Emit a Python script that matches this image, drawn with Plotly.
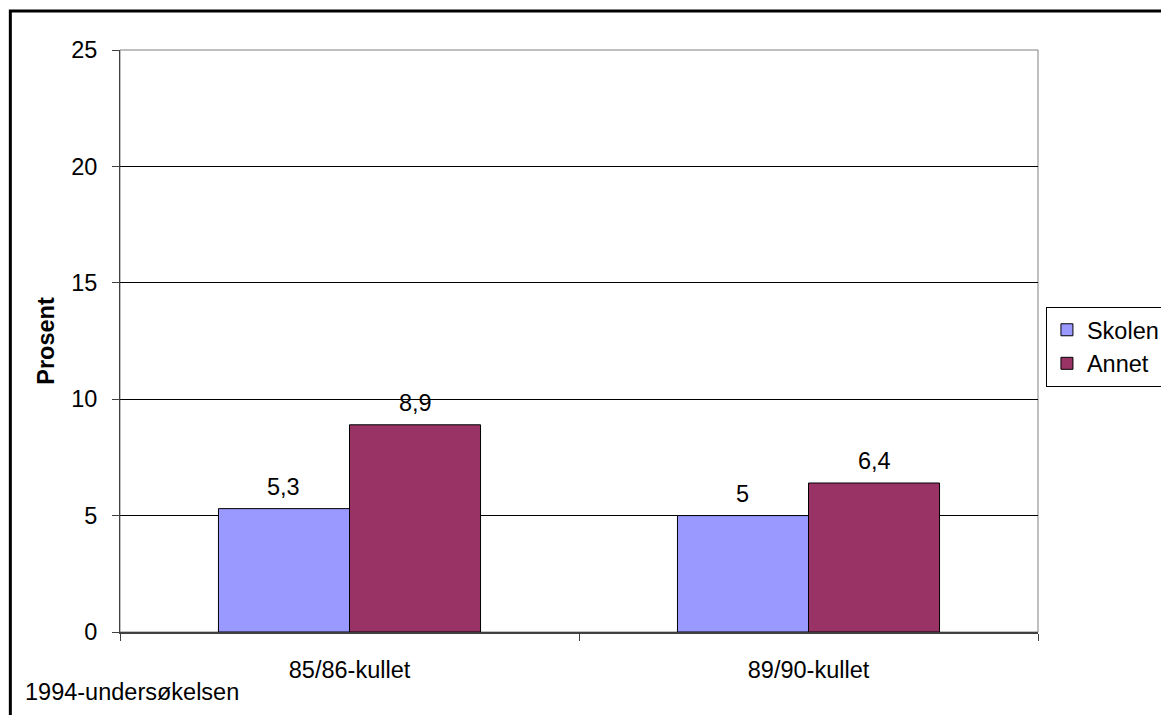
import plotly.graph_objects as go

categories = ["85/86-kullet", "89/90-kullet"]
series_names = ["Skolen", "Annet"]
skolen = [5.3, 5.0]
annet = [8.9, 6.4]
series_values = [skolen, annet]
colors = ["#9999FF", "#993366"]
y_ticks = [0, 5, 10, 15, 20, 25]

W, H = 1169, 715
L, R, T, B = 112, 1037, 42, 624
FONT = "Liberation Sans, Arial, sans-serif"
FS = 23.5
BARGAP = 0.429


def px_x(px):
    return (px - L) / (R - L)


def px_y(py):
    return (B - py) / (B - T)


fig = go.Figure()
for name, vals, col in zip(series_names, series_values, colors):
    fig.add_trace(go.Bar(
        x=categories, y=vals, name=name,
        marker=dict(color=col, line=dict(color="#000000", width=1)),
    ))

# data labels above bars
for i, vals in enumerate(series_values):
    side = -1 if i == 0 else 1
    for ci, v in enumerate(vals):
        lab = ("%g" % v).replace(".", ",")
        fig.add_annotation(
            x=ci + side * (1 - BARGAP) / 4, y=v, xref="x", yref="y",
            text=lab, showarrow=False, yanchor="middle", yshift=22,
            font=dict(size=FS, color="#000000", family=FONT),
        )

fig.add_annotation(
    x=px_x(14), y=px_y(684), xref="paper", yref="paper",
    text="1994-undersøkelsen", showarrow=False, xanchor="left", yanchor="middle",
    font=dict(size=FS, color="#000000", family=FONT),
)

# plot-area frame (grey)
fig.add_shape(type="rect", xref="paper", yref="paper", x0=0, x1=1, y0=0, y1=1,
              line=dict(color="#808080", width=1), layer="below")
# outer chart border
fig.add_shape(type="rect", xref="paper", yref="paper",
              x0=px_x(1.5), x1=px_x(W - 1.5), y0=px_y(H - 1.5), y1=px_y(3),
              line=dict(color="#000000", width=3))

fig.update_layout(
    width=W, height=H,
    margin=dict(l=L, r=W - R, t=T, b=H - B, pad=0),
    paper_bgcolor="white", plot_bgcolor="white",
    barmode="group", bargap=BARGAP, bargroupgap=0,
    font=dict(family=FONT, size=FS, color="#000000"),
    legend=dict(
        x=px_x(1045), y=px_y(299), xanchor="left", yanchor="top",
        bordercolor="#000000", borderwidth=1, bgcolor="white",
        font=dict(size=FS, family=FONT), itemwidth=30,
        tracegroupgap=0,
    ),
    xaxis=dict(
        type="category", tickson="boundaries", ticks="outside", ticklen=7,
        tickcolor="#404040", showline=True, linecolor="#404040", linewidth=2,
        showgrid=False, ticklabelstandoff=16,
        tickfont=dict(size=FS, family=FONT, color="#000000"),
    ),
    yaxis=dict(
        range=[0, 25], tickvals=y_ticks, ticks="outside", ticklen=7,
        tickcolor="#404040", showline=True, linecolor="#404040", linewidth=1,
        showgrid=True, gridcolor="#000000", gridwidth=1, zeroline=False,
        tickfont=dict(size=FS, family=FONT, color="#000000"),
        ticklabelstandoff=10,
        title=dict(text="<b>Prosent</b>", font=dict(size=FS, family=FONT), standoff=9),
    ),
)

fig.write_html("out.html")
